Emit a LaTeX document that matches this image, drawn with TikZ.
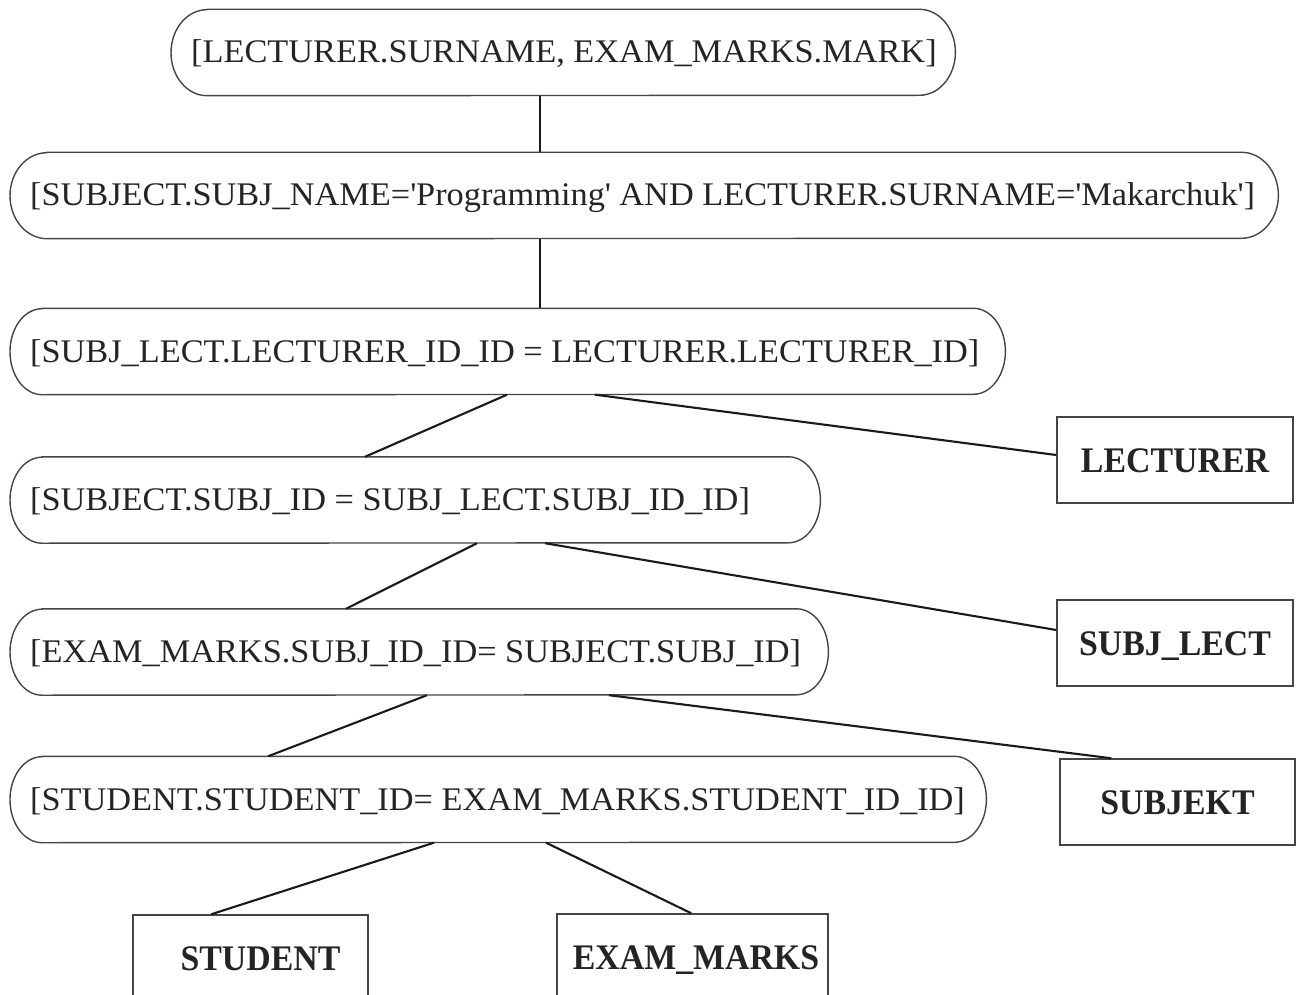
\documentclass[tikz,border=0pt]{standalone}
\usepackage{fontspec}
\setmainfont{Liberation Serif}[FakeStretch=1.04]
\newfontfamily\tablefont{Liberation Serif}[FakeStretch=0.94]
\usetikzlibrary{calc}

\definecolor{inkcol}{HTML}{242424}
\definecolor{framecol}{HTML}{454545}
\definecolor{wirecol}{HTML}{1A1A1A}

% outline of a query node: straight top and bottom, half-elliptic ends
\newcommand\capsuleoutline[2]{%
  \draw[capline] ([xshift=#2]#1.north west) -- ([xshift=-#2]#1.north east)
    arc[start angle=90, end angle=-90, x radius=#2, y radius=43pt]
    -- ([xshift=#2]#1.south west)
    arc[start angle=270, end angle=90, x radius=#2, y radius=43pt] -- cycle;}

\tikzset{
  query/.style={anchor=west, inner xsep=20pt, inner ysep=0pt,
    minimum height=86pt, text height=21pt, text depth=0pt,
    text=inkcol, font=\fontsize{33}{38}\selectfont},
  capline/.style={draw=framecol, line width=1.4pt},
  relbox/.style={draw=framecol, line width=1.5pt, inner sep=0pt,
    minimum width=236pt, minimum height=86pt, text height=24pt, text depth=0pt,
    text=inkcol, font=\tablefont\bfseries\fontsize{36}{40}\selectfont},
  wire/.style={draw=wirecol, line width=2.1pt},
}

\begin{document}
\begin{tikzpicture}[x=1pt, y=1pt]
\useasboundingbox (0,0) rectangle (1301,-995);
\clip (0,0) rectangle (1301,-995);

% query tree
\node[query] (n1) at (171,-52.5) {\makebox[744pt][l]{[LECTURER.SURNAME, EXAM\_MARKS.MARK]}};
\node[query] (n2) at (10,-195.5) {\makebox[1228pt][l]{[SUBJECT.SUBJ\_NAME=\textquotesingle Programming\textquotesingle{} AND LECTURER.SURNAME=\textquotesingle Makarchuk\textquotesingle]}};
\node[query] (n3) at (10,-351.5) {\makebox[955pt][l]{[SUBJ\_LECT.LECTURER\_ID\_ID = LECTURER.LECTURER\_ID]}};
\node[query] (n4) at (10,-500) {\makebox[770pt][l]{[SUBJECT.SUBJ\_ID = SUBJ\_LECT.SUBJ\_ID\_ID]}};
\node[query] (n5) at (10,-652) {\makebox[778pt][l]{[EXAM\_MARKS.SUBJ\_ID\_ID= SUBJECT.SUBJ\_ID]}};
\node[query] (n6) at (10,-799.5) {\makebox[936pt][l]{[STUDENT.STUDENT\_ID= EXAM\_MARKS.STUDENT\_ID\_ID]}};

\capsuleoutline{n1}{36pt}
\capsuleoutline{n2}{37pt}
\capsuleoutline{n3}{32pt}
\capsuleoutline{n4}{32pt}
\capsuleoutline{n5}{32pt}
\capsuleoutline{n6}{32pt}

% base relations
\node[relbox] (lect) at (1175,-460) {LECTURER};
\node[relbox] (sl) at (1175,-643) {SUBJ\_LECT};
\node[relbox, minimum width=235pt] (subj) at (1177.5,-802) {SUBJEKT};
\node[relbox, minimum width=235pt] (stud) at (250.5,-958) {\hspace*{20pt}STUDENT};
\node[relbox, minimum width=271pt] (em) at (692.5,-957) {\hspace*{7pt}EXAM\_MARKS};

% connectors
\draw[wire] ([xshift=369pt]n1.south west) -- ([xshift=530pt]n2.north west);
\draw[wire] ([xshift=530pt]n2.south west) -- ([xshift=530pt]n3.north west);
\draw[wire] ([xshift=497pt]n3.south west) -- ([xshift=355pt]n4.north west);
\draw[wire] ([xshift=585pt]n3.south west) -- ([yshift=5pt]lect.west);
\draw[wire] ([xshift=467pt]n4.south west) -- ([xshift=336pt]n5.north west);
\draw[wire] ([xshift=535pt]n4.south west) -- ([yshift=13pt]sl.west);
\draw[wire] ([xshift=417pt]n5.south west) -- ([xshift=258pt]n6.north west);
\draw[wire] ([xshift=599pt]n5.south west) -- ([xshift=52pt]subj.north west);
\draw[wire] ([xshift=424pt]n6.south west) -- ([xshift=79pt]stud.north west);
\draw[wire] ([xshift=536pt]n6.south west) -- ([xshift=135pt]em.north west);
\end{tikzpicture}
\end{document}
